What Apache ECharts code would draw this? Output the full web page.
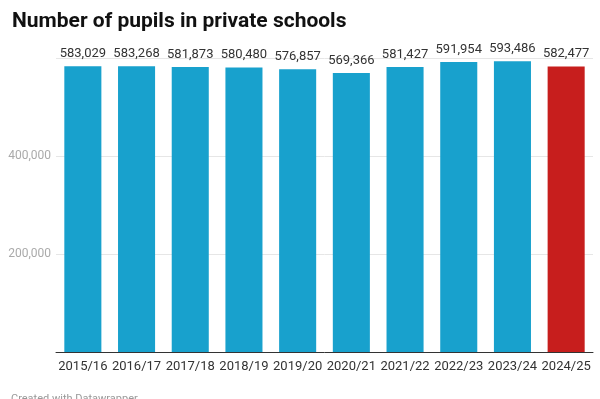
<!DOCTYPE html>
<html>
<head>
<meta charset="utf-8">
<script src="https://cdn.jsdelivr.net/npm/echarts@6/dist/echarts.min.js"></script>
<style>
  html, body { margin: 0; padding: 0; background: #fff; }
  #chart { width: 600px; height: 399px; }
</style>
</head>
<body>
<div id="chart"></div>
<script>
const years = ["2015/16", "2016/17", "2017/18", "2018/19", "2019/20", "2020/21", "2021/22", "2022/23", "2023/24", "2024/25"];
const pupils = [583029, 583268, 581873, 580480, 576857, 569366, 581427, 591954, 593486, 582477];
const highlightYear = "2024/25";

const chart = echarts.init(document.getElementById("chart"));

const fmt = (v) => v.toLocaleString("en-US");

chart.setOption({
  animation: false,
  textStyle: { fontFamily: "Roboto" },
  title: [
    {
      text: "Number of pupils in private schools",
      left: 7,
      top: 6,
      textStyle: { fontFamily: "Roboto", fontWeight: "bold", fontSize: 21, color: "#111" },
    },
    {
      text: "Created with Datawrapper",
      left: 6,
      top: 389,
      textStyle: { fontFamily: "Roboto", fontWeight: "normal", fontSize: 11, color: "#999" },
    },
  ],
  grid: { left: 56, right: 7, top: 58, bottom: 47 },
  xAxis: {
    type: "category",
    data: years,
    axisLine: { lineStyle: { color: "#333", width: 1 } },
    axisTick: { show: false },
    axisLabel: { color: "#333", fontSize: 13, margin: 8, interval: 0 },
  },
  yAxis: {
    type: "value",
    min: 0,
    max: 600000,
    interval: 200000,
    axisLine: { show: false },
    axisTick: { show: false },
    splitLine: {
      show: true,
      lineStyle: { color: "#e6e6e6" },
    },
    axisLabel: {
      color: "#aaa",
      fontSize: 12,
      margin: 5,
      formatter: (v) => (v === 0 || v === 600000 ? "" : fmt(v)),
    },
  },
  series: [
    {
      type: "bar",
      barWidth: "69%",
      data: pupils.map((v, i) => ({
        value: v,
        itemStyle: { color: years[i] === highlightYear ? "#c71e1d" : "#18a1cd" },
      })),
      label: {
        show: true,
        position: "top",
        distance: 6,
        color: "#333",
        fontSize: 13,
        formatter: (p) => fmt(p.value),
      },
    },
  ],
});
</script>
</body>
</html>
